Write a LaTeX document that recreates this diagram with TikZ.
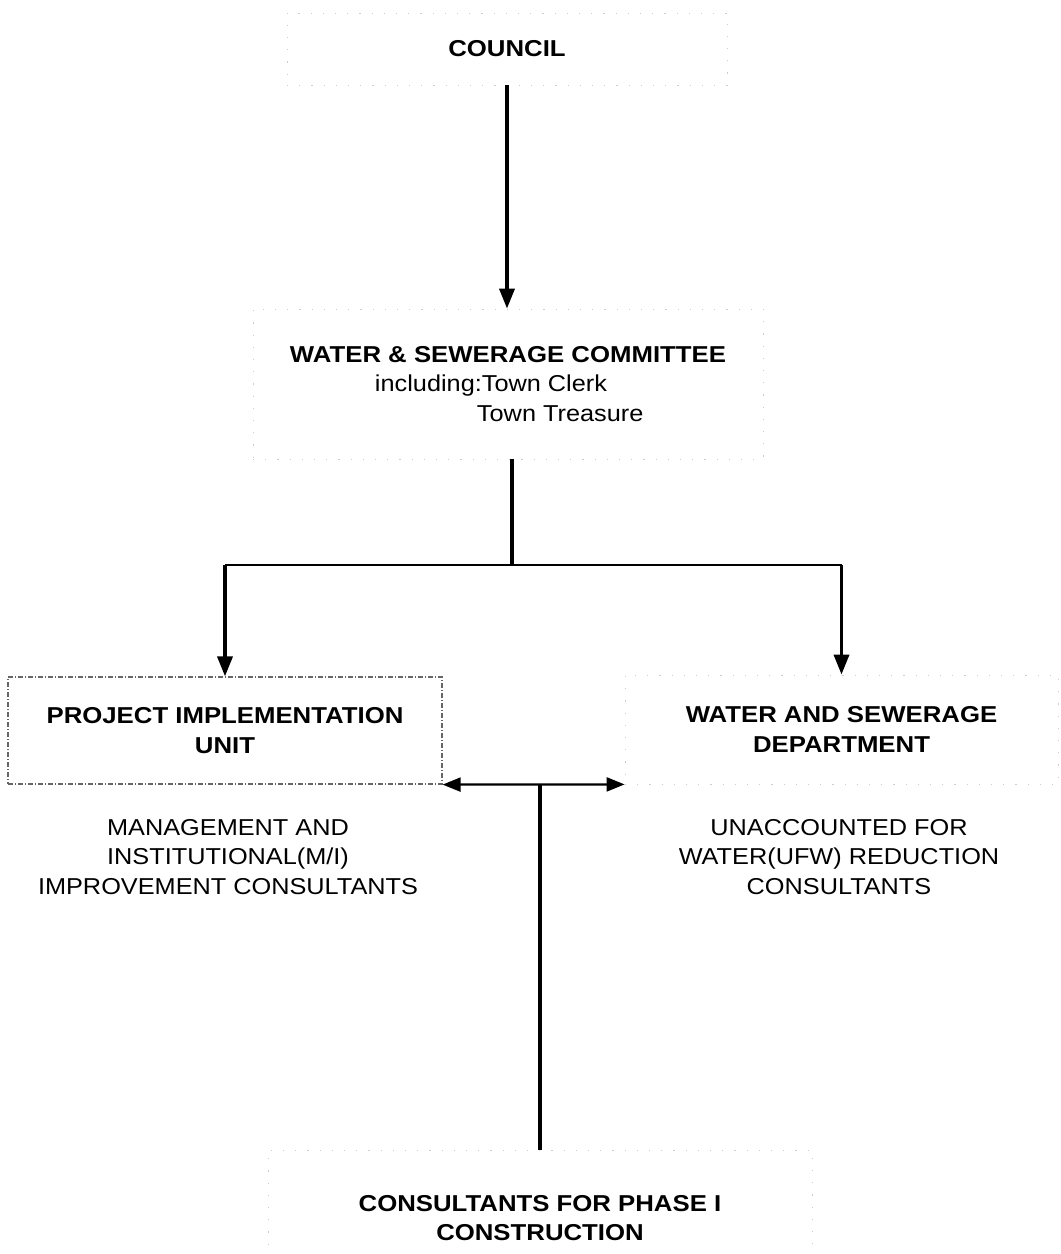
\documentclass[tikz,border=0pt]{standalone}
\usepackage{fontspec}
\setmainfont{Liberation Sans}[FakeStretch=1.1,BoldFeatures={FakeStretch=1.12}]
\usetikzlibrary{arrows.meta}
\begin{document}
\begin{tikzpicture}[x=1pt,y=-1pt,
  every node/.style={font=\fontsize{23}{29.5}\selectfont, align=center, inner sep=0pt},
  box/.style={rectangle, draw=black!20, line width=0.8pt, dash pattern=on 1.2pt off 11pt},
  piubox/.style={rectangle, draw=black!60, line width=1.2pt, dash pattern=on 5pt off 2pt on 1pt off 2pt},
  link/.style={line width=3.5pt, -{Triangle[length=20pt,width=15pt]}},
  twoway/.style={line width=2.2pt, {Triangle[length=18pt,width=14pt]}-{Triangle[length=18pt,width=14pt]}},
  trunk/.style={line width=3.5pt},
  branch/.style={line width=2.5pt}
]
\fill[white] (0,0) rectangle (1061,1254);
\useasboundingbox (0,0) rectangle (1061,1254);

% boxes and their labels
\node[box, minimum width=440pt, minimum height=72pt] (council) at (507,49) {\textbf{COUNCIL}};
\node[box, minimum width=510pt, minimum height=150pt, align=left] (committee) at (508,384)
  {\textbf{WATER \& SEWERAGE COMMITTEE}\\\hspace*{85pt}including:Town Clerk\\\hspace*{187pt}Town Treasure};
\node[piubox, minimum width=434pt, minimum height=107pt] (piu) at (225,730.5)
  {\textbf{PROJECT IMPLEMENTATION}\\\textbf{UNIT}};
\node[box, minimum width=433pt, minimum height=109pt] (dept) at (841.5,729.5)
  {\textbf{WATER AND SEWERAGE}\\\textbf{DEPARTMENT}};
\node (piunote) at (228,857) {MANAGEMENT AND\\INSTITUTIONAL(M/I)\\IMPROVEMENT CONSULTANTS};
\node (deptnote) at (839,857) {UNACCOUNTED FOR\\WATER(UFW) REDUCTION\\CONSULTANTS};
\node[box, minimum width=544pt, minimum height=136pt] (constr) at (540,1218)
  {\textbf{CONSULTANTS FOR PHASE I}\\\textbf{CONSTRUCTION}};

% connectors
\draw[link] (council.south) -- (council.south |- committee.north);
\coordinate (split) at (512,565);
\draw[trunk] (split |- committee.south) -- (split);
\draw[branch] (piu.north |- split) -- (dept.north |- split);
\draw[link] (piu.north |- split) -- (piu.north);
\draw[link] (dept.north |- split) -- (dept.north);
\draw[twoway] (piu.south east) -- (dept.south west);
\coordinate (j) at (constr.north |- piu.south east);
\draw[trunk] (j) -- (constr.north);
\end{tikzpicture}
\end{document}
